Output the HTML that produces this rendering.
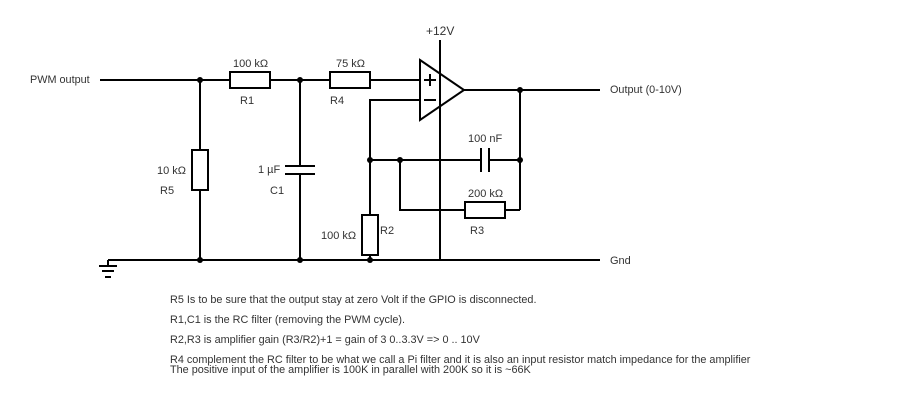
<!DOCTYPE html><html><head><style>body{margin:0;background:#fff}svg{display:block}text{font-family:"Liberation Sans",sans-serif;font-size:11px;fill:#333}.n{font-size:10.85px}</style></head><body>
<svg width="900" height="400" viewBox="0 0 900 400">
<g stroke="#000" stroke-width="2" fill="none">
<path d="M100 80H230M270 80H330M370 80H420"/>
<path d="M200 80V150M200 190V260"/>
<rect x="192" y="150" width="16" height="40"/>
<rect x="230" y="72" width="40" height="16"/>
<rect x="330" y="72" width="40" height="16"/>
<path d="M300 80V166M300 174V260M285 166H315M285 174H315"/>
<path d="M108 260H600M108 260V266M99 266H117M102 271H114M105 277H111"/>
<path d="M440 40V260"/>
<path d="M420 60L464 90L420 120Z"/>
<path d="M464 90H600M520 90V210M505 210H520"/>
<path d="M420 100H370V215M370 255V260"/>
<rect x="362" y="215" width="16" height="40"/>
<path d="M370 160H481M489 160H520M481 148V172M489 148V172"/>
<path d="M400 160V210H465"/>
<rect x="465" y="202" width="40" height="16"/>
<path d="M424 80H436M430 74V86M424 100H436"/>
</g>
<g fill="#000"><circle cx="200" cy="80" r="3"/><circle cx="300" cy="80" r="3"/><circle cx="200" cy="260" r="3"/><circle cx="300" cy="260" r="3"/><circle cx="370" cy="260" r="3"/><circle cx="370" cy="160" r="3"/><circle cx="400" cy="160" r="3"/><circle cx="520" cy="160" r="3"/><circle cx="520" cy="90" r="3"/></g>
<text x="30" y="83" class="n">PWM output</text>
<text x="233" y="67">100 kΩ</text><text x="240" y="104">R1</text>
<text x="336" y="67">75 kΩ</text><text x="330" y="104">R4</text>
<text x="426" y="35" style="font-size:12px">+12V</text>
<text x="610" y="93" class="n">Output (0-10V)</text>
<text x="157" y="174">10 kΩ</text><text x="160" y="194">R5</text>
<text x="258" y="173">1 µF</text><text x="270" y="194">C1</text>
<text x="468" y="142">100 nF</text>
<text x="468" y="197">200 kΩ</text><text x="470" y="234">R3</text>
<text x="321" y="239">100 kΩ</text><text x="380" y="234">R2</text>
<text x="610" y="264">Gnd</text>
<text x="170" y="303" class="n">R5 Is to be sure that the output stay at zero Volt if the GPIO is disconnected.</text>
<text x="170" y="323" class="n">R1,C1 is the RC filter (removing the PWM cycle).</text>
<text x="170" y="343" class="n">R2,R3 is amplifier gain (R3/R2)+1 = gain of 3 0..3.3V =&gt; 0 .. 10V</text>
<text x="170" y="363" class="n">R4 complement the RC filter to be what we call a Pi filter and it is also an input resistor match impedance for the amplifier</text>
<text x="170" y="373" class="n">The positive input of the amplifier is 100K in parallel with 200K so it is ~66K</text>
</svg></body></html>
